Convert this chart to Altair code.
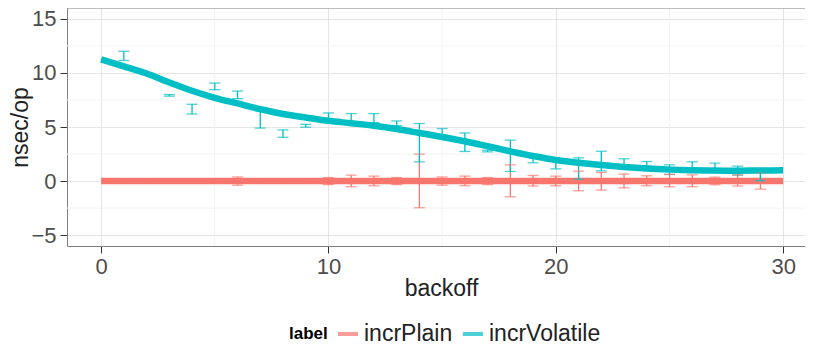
import altair as alt
import pandas as pd

FONT = "Liberation Sans"

labels = ["incrPlain", "incrVolatile"]
colors = ["#F8766D", "#00BFC4"]

# smoothed curves (x = 0..30)
smooth_x = list(range(0, 31))
plain_smooth = [0.0] * 31
volatile_smooth = [11.26, 10.6, 9.94, 9.12, 8.35, 7.7, 7.18, 6.66, 6.2, 5.88,
                   5.57, 5.35, 5.12, 4.82, 4.45, 4.08, 3.68, 3.22, 2.75, 2.32,
                   1.95, 1.7, 1.48, 1.3, 1.16, 1.06, 1.0, 0.97, 0.96, 0.98, 1.0]

# error bars (x = 1..29)
err_x = list(range(1, 30))
volatile_lo = [11.15, 9.85, 7.85, 6.2, 8.45, 7.62, 4.9, 4.05, 4.98, 5.6,
               5.41, 5.41, 5.13, 1.78, 4.24, 2.74, 2.7, 0.89, 1.69, 1.13,
               0.18, 0.95, 1.08, 1.38, 0.61, 1.01, 0.86, 0.55, 0.03]
volatile_hi = [12.0, 10.0, 8.0, 7.1, 9.06, 8.32, 6.5, 4.73, 5.25, 6.3,
               6.24, 6.24, 5.56, 5.32, 4.86, 4.45, 2.85, 3.78, 2.4, 2.1,
               2.15, 2.76, 2.06, 1.81, 1.5, 1.78, 1.66, 1.38, 0.8]
plain_lo = [-0.05, -0.05, -0.05, -0.05, -0.05, -0.38, -0.05, -0.05, -0.05, -0.33,
            -0.52, -0.43, -0.33, -2.46, -0.38, -0.43, -0.33, -1.45, -0.46, -0.43,
            -0.89, -0.83, -0.62, -0.43, -0.52, -0.52, -0.34, -0.46, -0.74]
plain_hi = [0.05, 0.05, 0.05, 0.05, 0.05, 0.38, 0.05, 0.05, 0.05, 0.33,
            0.55, 0.46, 0.33, 2.49, 0.38, 0.46, 0.33, 1.5, 0.52, 0.46,
            0.92, 0.8, 0.65, 0.49, 0.62, 0.58, 0.37, 0.58, 0.77]

x_ticks = [0, 10, 20, 30]
y_ticks = [-5, 0, 5, 10, 15]
minor_x = [5, 15, 25]
minor_y = [-2.5, 2.5, 7.5, 12.5]

W, H = 738, 238

smooth_df = pd.DataFrame({
    "backoff": smooth_x * 2,
    "value": plain_smooth + volatile_smooth,
    "label": [labels[0]] * 31 + [labels[1]] * 31,
})
err_df = pd.DataFrame({
    "backoff": err_x * 2,
    "lo": plain_lo + volatile_lo,
    "hi": plain_hi + volatile_hi,
    "label": [labels[0]] * len(err_x) + [labels[1]] * len(err_x),
})

xscale = alt.Scale(domain=[-1.5, 30.96], nice=False, zero=False)
yscale = alt.Scale(domain=[-6, 16], nice=False, zero=False)

xaxis = alt.Axis(values=x_ticks, title="backoff", grid=True, gridColor="#E5E5E5",
                 tickSize=7, tickColor="#333333", labelFontSize=22, labelColor="#4D4D4D",
                 labelFont=FONT, labelPadding=3, titleFont=FONT, titleFontSize=23,
                 titleFontWeight="normal", titleColor="#222222", titleY=31.5,
                 titleX=374, domainColor="#7F7F7F", labelFlush=False)
yaxis = alt.Axis(values=y_ticks, title="nsec/op", grid=True, gridColor="#E5E5E5",
                 tickSize=7, tickColor="#333333", labelFontSize=22, labelColor="#4D4D4D",
                 labelFont=FONT, labelPadding=4, titleFont=FONT, titleFontSize=23,
                 titleFontWeight="normal", titleColor="#222222", titleX=-35, titleY=H / 2,
                 domainColor="#7F7F7F", labelFlush=False)

legA = alt.Legend(orient="none", legendX=222, legendY=314, direction="horizontal",
                  titleOrient="left", title="label", titleFont=FONT, titleFontSize=17,
                  titleFontWeight="bold", titleColor="#000000", titlePadding=8,
                  labelFont=FONT, labelFontSize=23, labelColor="#222222",
                  symbolType="stroke", symbolSize=400, symbolStrokeWidth=4,
                  labelOffset=4, columnPadding=2, padding=0)

cscale = alt.Scale(domain=labels, range=colors)
color = alt.Color("label:N", scale=cscale, legend=legA)

minor_x_layer = alt.Chart(pd.DataFrame({"v": minor_x})).mark_rule(
    color="#F3F3F3", strokeWidth=1).encode(x=alt.X("v:Q", scale=xscale, axis=xaxis))
minor_y_layer = alt.Chart(pd.DataFrame({"v": minor_y})).mark_rule(
    color="#F3F3F3", strokeWidth=1).encode(y=alt.Y("v:Q", scale=yscale, axis=yaxis))

lines = alt.Chart(smooth_df).mark_line(strokeWidth=6.5, interpolate="monotone").encode(
    x=alt.X("backoff:Q", scale=xscale, axis=xaxis),
    y=alt.Y("value:Q", scale=yscale, axis=yaxis),
    color=color,
)

bars = alt.Chart(err_df).mark_rule(strokeWidth=1.3).encode(
    x=alt.X("backoff:Q", scale=xscale, axis=xaxis),
    y=alt.Y("lo:Q", scale=yscale, axis=yaxis),
    y2="hi:Q",
    color=color,
)
cap_lo = alt.Chart(err_df).mark_tick(orient="horizontal", size=11, thickness=1.3).encode(
    x=alt.X("backoff:Q", scale=xscale, axis=xaxis),
    y=alt.Y("lo:Q", scale=yscale, axis=yaxis),
    color=color,
)
cap_hi = alt.Chart(err_df).mark_tick(orient="horizontal", size=11, thickness=1.3).encode(
    x=alt.X("backoff:Q", scale=xscale, axis=xaxis),
    y=alt.Y("hi:Q", scale=yscale, axis=yaxis),
    color=color,
)

top_border = alt.Chart(pd.DataFrame({"a": [0]})).mark_rule(
    color="#7F7F7F", strokeWidth=1).encode(
    x=alt.value(0), x2=alt.value(W), y=alt.value(0))

chart = alt.layer(minor_x_layer, minor_y_layer, lines, bars, cap_lo, cap_hi,
                  top_border).properties(
    width=W, height=H,
    padding={"left": 59, "top": 0, "right": 0, "bottom": 100},
    autosize=alt.AutoSizeParams(type="none"),
    background="white",
).configure_view(stroke=None)

chart.save("out.html", embed_options={"renderer": "svg", "actions": False})
